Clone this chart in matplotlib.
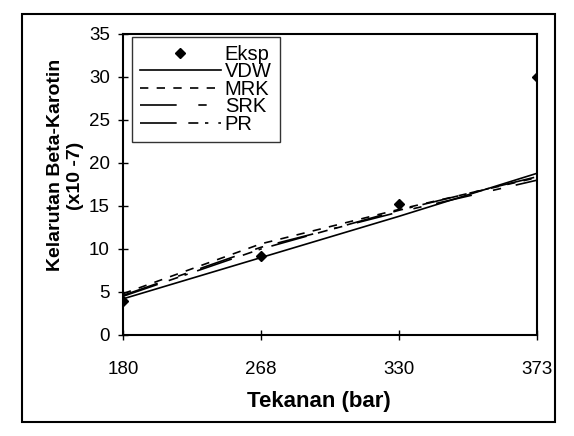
import matplotlib
matplotlib.use("Agg")
import matplotlib.pyplot as plt
from matplotlib.patches import Rectangle

plt.rcParams['font.family'] = ['Liberation Sans', 'DejaVu Sans']

pressure = ["180", "268", "330", "373"]
eksp = [3.9, 9.2, 15.2, 30.0]
vdw = [4.2, 9.0, 13.8, 18.8]
mrk = [4.8, 10.6, 14.6, 18.3]
srk = [4.6, 10.2, 14.3, 18.0]
pr = [4.5, 10.0, 14.5, 18.4]

fig = plt.figure(figsize=(5.74, 4.36), dpi=100)
ax = fig.add_axes([0.2143, 0.2317, 0.7213, 0.6904])

x = list(range(len(pressure)))
ax.plot(x, eksp, linestyle='none', marker='D', markersize=5.5, color='black', label='Eksp')
ax.plot(x, vdw, color='black', lw=1.2, label='VDW')
ax.plot(x, mrk, color='black', lw=1.2, dashes=(5, 5), label='MRK')
ax.plot(x, srk, color='black', lw=1.2, dashes=(22, 13, 5, 9), label='SRK')
ax.plot(x, pr, color='black', lw=1.2, dashes=(22, 7, 6, 4, 2, 6), label='PR')

ax.set_xlim(0, 3)
ax.set_ylim(0, 35)
ax.set_xticks(x)
ax.set_xticklabels(pressure)
ax.set_yticks(range(0, 36, 5))
ax.tick_params(axis='both', direction='inout', length=7, width=1, labelsize=13.5, colors='black')
ax.tick_params(axis='x', pad=15)
ax.tick_params(axis='y', pad=6)
for s in ax.spines.values():
    s.set_linewidth(1.5)
    s.set_color('black')

fig.text(56 / 574, 1 - 164.5 / 436, 'Kelarutan Beta-Karotin', rotation=90,
         ha='center', va='center', fontsize=14, fontweight='bold')
fig.text(76 / 574, 1 - 176 / 436, '(x10 -7)', rotation=90,
         ha='center', va='center', fontsize=14, fontweight='bold')
fig.text(318.5 / 574, 1 - 401 / 436, 'Tekanan (bar)', ha='center', va='center',
         fontsize=16, fontweight='bold')

leg = ax.legend(loc='upper left', bbox_to_anchor=(0.022, 0.99), borderaxespad=0,
                fontsize=14.5, frameon=True, fancybox=False, edgecolor='black',
                handlelength=4.0, handletextpad=0.2, labelspacing=-0.08,
                borderpad=0.4, numpoints=1)
leg.get_frame().set_linewidth(1.0)

frame = Rectangle((0.0383, 0.0321), 0.9286, 0.9358, transform=fig.transFigure,
                  fill=False, edgecolor='black', linewidth=1.5)
fig.patches.append(frame)

fig.savefig('out.png', dpi=100)
